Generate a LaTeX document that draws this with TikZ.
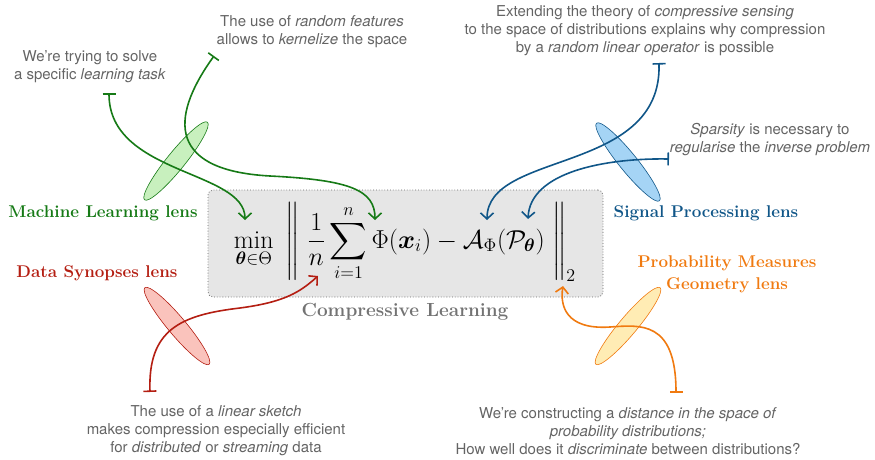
\documentclass[tikz,border=0pt]{standalone}
\usepackage{amsmath}
\usepackage{graphicx}
\usepackage{fontspec}
\setsansfont{TeX Gyre Heros}
\usetikzlibrary{arrows.meta, shapes.geometric}

\definecolor{mlgreen}{RGB}{22,122,22}
\definecolor{mlfill}{RGB}{200,240,190}
\definecolor{spblue}{RGB}{16,86,136}
\definecolor{spfill}{RGB}{165,212,245}
\definecolor{dsred}{RGB}{180,30,18}
\definecolor{dsfill}{RGB}{250,195,188}
\definecolor{pmorange}{RGB}{240,122,16}
\definecolor{pmfill}{RGB}{255,236,180}
\definecolor{notegray}{RGB}{100,100,100}
\definecolor{boxfill}{RGB}{230,230,230}

\begin{document}
\begin{tikzpicture}[
			x=1pt, y=-1pt,
			note/.style={
					font=\sffamily\fontsize{15}{18}\selectfont,
					text=notegray,
					align=center,
					inner sep=0pt
				},
			lensname/.style={
					font=\bfseries\fontsize{17}{22}\selectfont,
					align=center,
					inner sep=0pt
				},
			lens/.style={
					ellipse,
					draw,
					line width=0.6pt,
					minimum width=100pt,
					minimum height=18pt,
					inner sep=0pt
				},
			objbox/.style={
					draw=black!60,
					dotted,
					thick,
					rounded corners=5pt,
					fill=boxfill,
					minimum width=395pt,
					minimum height=107pt,
					inner sep=0pt
				},
			link/.style={
			{Bar[width=13pt]}-{Straight Barb[length=6pt,width=13pt]},
			line width=1.6pt
			}
			]
			\useasboundingbox (0,0) rectangle (875,460);

			% ================= objective =================
			\node[objbox] (obj) at (405.5,243.5) {};
			\node[font=\LARGE, inner sep=0pt] (formula) at (405,242)
			{\scalebox{1.5}{$\displaystyle \min_{\boldsymbol{\theta}\in\Theta}\;
							\Bigg\| \;\frac{1}{n}\sum_{i=1}^{n}\Phi(\boldsymbol{x}_i)
							-\mathcal{A}_{\Phi}(\mathcal{P}_{\boldsymbol{\theta}})\; \Bigg\|_2$}};
			\node[lensname, text=black!55, font=\bfseries\fontsize{19}{22}\selectfont] (cl) at (405,312) {Compressive Learning};

			% ================= lenses =================
			\node[lens, draw=mlgreen, fill=mlfill, rotate=51]   (mllens) at (176,161) {};
			\node[lens, draw=spblue, fill=spfill, rotate=-51]   (splens) at (628,162) {};
			\node[lens, draw=dsred, fill=dsfill, rotate=-50]    (dslens) at (177,326) {};
			\node[lens, draw=pmorange, fill=pmfill, rotate=50]  (pmlens) at (628,326) {};

			\node[lensname, text=mlgreen]  (mlname) at (103,213) {Machine Learning lens};
			\node[lensname, text=spblue]   (spname) at (706,213) {Signal Processing lens};
			\node[lensname, text=dsred]    (dsname) at (97,273) {Data Synopses lens};
			\node[lensname, text=pmorange] (pmname) at (727,274) {Probability Measures\\Geometry lens};

			% ================= remarks =================
			\node[note] (mltask) at (90,67)
			{We’re trying to solve\\a specific \textit{learning task}};
			\node[note] (rfeat) at (312,32)
			{The use of \textit{random features}\\allows to \textit{kernelize} the space};
			\node[note] (csens) at (645,31)
			{Extending the theory of \textit{compressive sensing}\\to the space of distributions explains why compression\\by a \textit{random linear operator} is possible};
			\node[note] (spars) at (770,140)
			{\textit{Sparsity} is necessary to\\\textit{regularise} the \textit{inverse problem}};
			\node[note] (lsketch) at (216,431)
			{The use of a \textit{linear sketch}\\makes compression especially efficient\\for \textit{distributed} or \textit{streaming} data};
			\node[note] (pdist) at (628,431)
			{We’re constructing a \textit{distance in the space of}\\\textit{probability distributions;}\\How well does it \textit{discriminate} between distributions?};

			% tails under the remarks, heads on the formula
			\coordinate (mltail) at (109,93);
			\coordinate (rftail) at (214,56);
			\coordinate (cstail) at (659,63);
			\coordinate (sptail) at (669,159);
			\coordinate (lstail) at (150,392);
			\coordinate (pdtail) at (676,393);

			\coordinate (minhead) at (245,220);
			\coordinate (phihead) at (375,220);
			\coordinate (ahead) at (487,220);
			\coordinate (phead) at (528,219);
			\coordinate (sumhead) at (318,276);
			\coordinate (normhead) at (563,286);

			% ================= links =================
			\draw[link, mlgreen] (mltail) .. controls (109,175) and (245,170) .. (minhead);
			\draw[link, mlgreen] (rftail) .. controls (175,110) and (160,170) .. (270,176)
			.. controls (350,180) and (375,190) .. (phihead);
			\draw[link, spblue] (cstail) .. controls (662,175) and (487,150) .. (ahead);
			\draw[link, spblue] (sptail) .. controls (605,158) and (530,172) .. (phead);
			\draw[link, dsred] (lstail) .. controls (148,330) and (180,315) .. (240,308)
			.. controls (285,302) and (300,292) .. (sumhead);
			\draw[link, pmorange] (pdtail) .. controls (676,320) and (640,325) .. (610,327)
			.. controls (565,330) and (560,305) .. (normhead);

		\end{tikzpicture}
\end{document}
